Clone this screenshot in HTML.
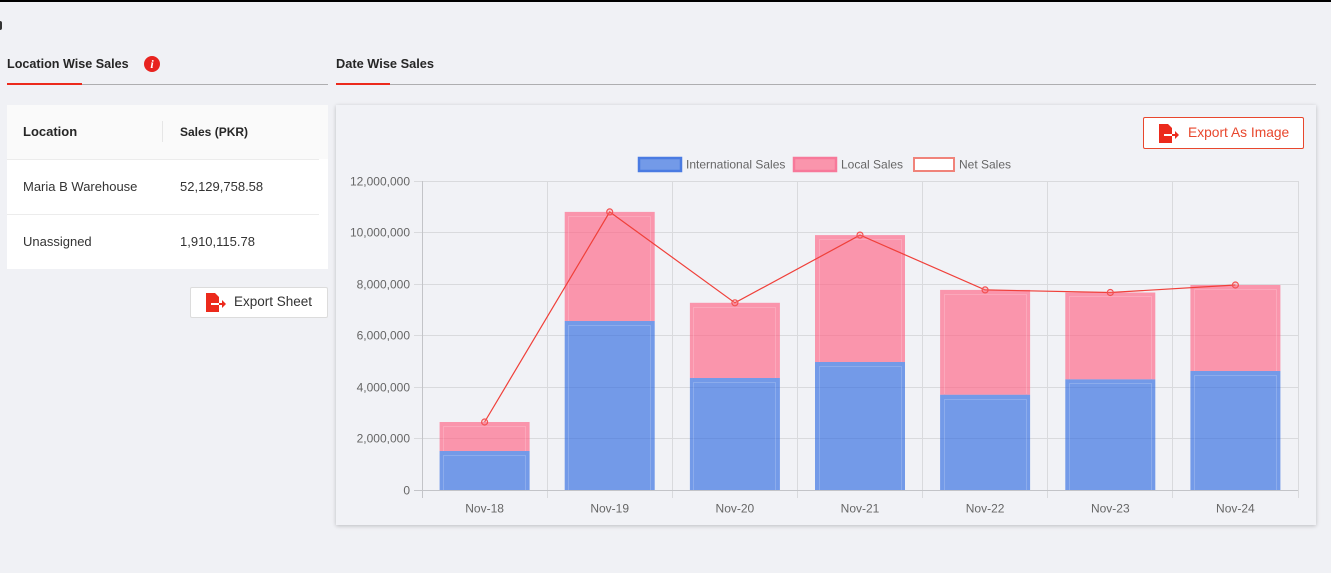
<!DOCTYPE html>
<html><head><meta charset="utf-8">
<style>
*{margin:0;padding:0;box-sizing:border-box}
html,body{width:1331px;height:573px;overflow:hidden;background:#f0f1f5;font-family:"Liberation Sans",Arial,sans-serif;position:relative}
.abs{position:absolute}
.tab{font-size:13px;font-weight:bold;color:#262626;white-space:nowrap;line-height:16px}
.txt{font-size:13px;color:#333;white-space:nowrap;line-height:16px}
.btn{position:absolute;background:#fff;border-radius:2px;font-size:13.5px;white-space:nowrap}
</style></head><body>
<div class="abs" style="left:0;top:0;width:1331px;height:2px;background:#000"></div>
<div class="abs" style="left:0;top:21px;width:2px;height:9px;background:#333;border-radius:0 4px 4px 0"></div>

<!-- Left tab -->
<div class="abs tab" style="left:7px;top:56px;font-size:12.6px">Location Wise Sales</div>
<div class="abs" style="left:144px;top:56px;width:16px;height:16px;border-radius:50%;background:#e8231f;color:#fff;font:italic bold 12px 'Liberation Serif',serif;text-align:center;line-height:16px">i</div>
<div class="abs" style="left:7px;top:84px;width:321px;height:1px;background:#aeaeb0"></div>
<div class="abs" style="left:7px;top:83px;width:75px;height:2px;background:#ec2a1c"></div>

<!-- Table -->
<div class="abs" style="left:7px;top:105px;width:321px;height:164px;background:#fff"></div>
<div class="abs" style="left:7px;top:105px;width:321px;height:54px;background:#fafafa"></div>
<div class="abs" style="left:7px;top:159px;width:312px;height:1px;background:#ececec"></div>
<div class="abs" style="left:7px;top:214px;width:312px;height:1px;background:#ececec"></div>
<div class="abs" style="left:162px;top:121px;width:1px;height:21px;background:#e6e6e6"></div>
<div class="abs txt" style="left:23px;top:124px;font-weight:bold;color:#262626">Location</div>
<div class="abs txt" style="left:180px;top:124px;font-weight:bold;color:#262626;font-size:12px">Sales (PKR)</div>
<div class="abs txt" style="left:23px;top:179px">Maria B Warehouse</div>
<div class="abs txt" style="left:180px;top:179px">52,129,758.58</div>
<div class="abs txt" style="left:23px;top:234px">Unassigned</div>
<div class="abs txt" style="left:180px;top:234px">1,910,115.78</div>

<!-- Export Sheet -->
<div class="btn" style="left:190px;top:287px;width:138px;height:31px;border:1px solid #dcdcdc;color:#333">
  <svg class="abs" style="left:15px;top:5px" width="21" height="19" viewBox="0 0 21 19"><path d="M0 0H9L13 4V19H0Z" fill="#ec2a1c"/><rect x="5" y="10" width="8" height="2" fill="#fff"/><rect x="13" y="10" width="4" height="2" fill="#ec2a1c"/><path d="M16 7L20 11L16 15Z" fill="#ec2a1c"/></svg>
  <span class="abs" style="left:43px;top:6px;line-height:16px">Export Sheet</span>
</div>

<!-- Right tab -->
<div class="abs tab" style="left:336px;top:56px;font-weight:bold;font-size:12.8px">Date Wise Sales</div>
<div class="abs" style="left:336px;top:84px;width:980px;height:1px;background:#aeaeb0"></div>
<div class="abs" style="left:336px;top:83px;width:54px;height:2px;background:#ec2a1c"></div>

<!-- Card -->
<div class="abs" style="left:336px;top:105px;width:980px;height:420px;background:#f1f2f6;box-shadow:0 1px 4px rgba(0,0,0,0.22)"></div>

<div class="btn" style="left:1143px;top:117px;width:161px;height:32px;border:1px solid #e8472d;color:#e8472d">
  <svg class="abs" style="left:15px;top:6px" width="21" height="19" viewBox="0 0 21 19"><path d="M0 0H9L13 4V19H0Z" fill="#ec2a1c"/><rect x="5" y="10" width="8" height="2" fill="#fff"/><rect x="13" y="10" width="4" height="2" fill="#ec2a1c"/><path d="M16 7L20 11L16 15Z" fill="#ec2a1c"/></svg>
  <span class="abs" style="left:44px;top:7px;line-height:16px;font-size:13.8px">Export As Image</span>
</div>

<svg class="abs" style="left:0;top:0" width="1331" height="573" viewBox="0 0 1331 573" font-family="Liberation Sans, Arial, sans-serif">
  <!-- legend -->
  <rect x="639" y="158" width="42" height="13" fill="rgba(48,106,225,0.65)" stroke="#4a7be2" stroke-width="2.5"/>
  <text x="686" y="168.5" font-size="12" fill="#666">International Sales</text>
  <rect x="794" y="158" width="42" height="13" fill="rgba(255,99,132,0.65)" stroke="#f7799a" stroke-width="2.5"/>
  <text x="841" y="168.5" font-size="12" fill="#666">Local Sales</text>
  <rect x="914" y="158" width="40" height="13" fill="#fff" stroke="#f0837a" stroke-width="2"/>
  <text x="959" y="168.5" font-size="12" fill="#666">Net Sales</text>

  <!-- grid -->
  <g stroke="#d9dadd" stroke-width="1">
    <line x1="414" y1="181.5" x2="1298" y2="181.5"/>
    <line x1="414" y1="232.5" x2="1298" y2="232.5"/>
    <line x1="414" y1="284.5" x2="1298" y2="284.5"/>
    <line x1="414" y1="335.5" x2="1298" y2="335.5"/>
    <line x1="414" y1="387.5" x2="1298" y2="387.5"/>
    <line x1="414" y1="438.5" x2="1298" y2="438.5"/>
    <line x1="547.5" y1="181" x2="547.5" y2="498"/>
    <line x1="672.5" y1="181" x2="672.5" y2="498"/>
    <line x1="797.5" y1="181" x2="797.5" y2="498"/>
    <line x1="922.5" y1="181" x2="922.5" y2="498"/>
    <line x1="1047.5" y1="181" x2="1047.5" y2="498"/>
    <line x1="1172.5" y1="181" x2="1172.5" y2="498"/>
    <line x1="1298.5" y1="181" x2="1298.5" y2="498"/>
  </g>
  <g stroke="#c3c4c8" stroke-width="1">
    <line x1="422.5" y1="181" x2="422.5" y2="498"/>
    <line x1="414" y1="490.5" x2="1298" y2="490.5"/>
  </g>

  <!-- y labels -->
  <g font-size="12" fill="#666" text-anchor="end">
    <text x="410" y="185.5">12,000,000</text>
    <text x="410" y="236.5">10,000,000</text>
    <text x="410" y="288.5">8,000,000</text>
    <text x="410" y="339.5">6,000,000</text>
    <text x="410" y="391.5">4,000,000</text>
    <text x="410" y="442.5">2,000,000</text>
    <text x="410" y="494.5">0</text>
  </g>
  <g font-size="12" fill="#666" text-anchor="middle">
    <text x="484.6" y="512.5">Nov-18</text>
    <text x="609.7" y="512.5">Nov-19</text>
    <text x="734.9" y="512.5">Nov-20</text>
    <text x="860" y="512.5">Nov-21</text>
    <text x="985.1" y="512.5">Nov-22</text>
    <text x="1110.3" y="512.5">Nov-23</text>
    <text x="1235.4" y="512.5">Nov-24</text>
  </g>

  <!-- bars: blue -->
  <g fill="rgba(48,106,225,0.65)">
    <rect x="439.6" y="451" width="90" height="39"/>
    <rect x="564.7" y="321" width="90" height="169"/>
    <rect x="689.9" y="378" width="90" height="112"/>
    <rect x="815" y="362" width="90" height="128"/>
    <rect x="940.1" y="394.7" width="90" height="95.3"/>
    <rect x="1065.3" y="379.3" width="90" height="110.7"/>
    <rect x="1190.4" y="371" width="90" height="119"/>
  </g>
  <!-- bars: pink -->
  <g fill="rgba(255,99,132,0.65)">
    <rect x="439.6" y="422" width="90" height="29"/>
    <rect x="564.7" y="211.9" width="90" height="109.1"/>
    <rect x="689.9" y="302.8" width="90" height="75.2"/>
    <rect x="815" y="235.1" width="90" height="126.9"/>
    <rect x="940.1" y="289.9" width="90" height="104.8"/>
    <rect x="1065.3" y="292.5" width="90" height="86.8"/>
    <rect x="1190.4" y="285" width="90" height="86"/>
  </g>
  <!-- inner lighter borders -->
  <g fill="none" stroke="rgba(255,255,255,0.18)" stroke-width="1">
    <path d="M443.5 490V455.5H525.5V490M443.5 451V426.5H525.5V451"/>
    <path d="M568.5 490V325.5H650.5V490M568.5 321V216.5H650.5V321"/>
    <path d="M693.5 490V382.5H775.5V490M693.5 378V307.5H775.5V378"/>
    <path d="M819.5 490V366.5H901.5V490M819.5 362V239.5H901.5V362"/>
    <path d="M944.5 490V399.5H1026.5V490M944.5 394V294.5H1026.5V394"/>
    <path d="M1069.5 490V383.5H1151.5V490M1069.5 379V296.5H1151.5V379"/>
    <path d="M1194.5 490V375.5H1276.5V490M1194.5 371V289.5H1276.5V371"/>
  </g>

  <!-- net line -->
  <polyline points="484.6,422 609.7,211.9 734.9,302.8 860,235.1 985.1,289.9 1110.3,292.5 1235.4,285" fill="none" stroke="#f0403a" stroke-width="1.2"/>
  <g fill="rgba(255,120,130,0.25)" stroke="#f25252" stroke-width="1.2">
    <circle cx="484.6" cy="422" r="3"/>
    <circle cx="609.7" cy="211.9" r="3"/>
    <circle cx="734.9" cy="302.8" r="3"/>
    <circle cx="860" cy="235.1" r="3"/>
    <circle cx="985.1" cy="289.9" r="3"/>
    <circle cx="1110.3" cy="292.5" r="3"/>
    <circle cx="1235.4" cy="285" r="3"/>
  </g>
</svg>
</body></html>
